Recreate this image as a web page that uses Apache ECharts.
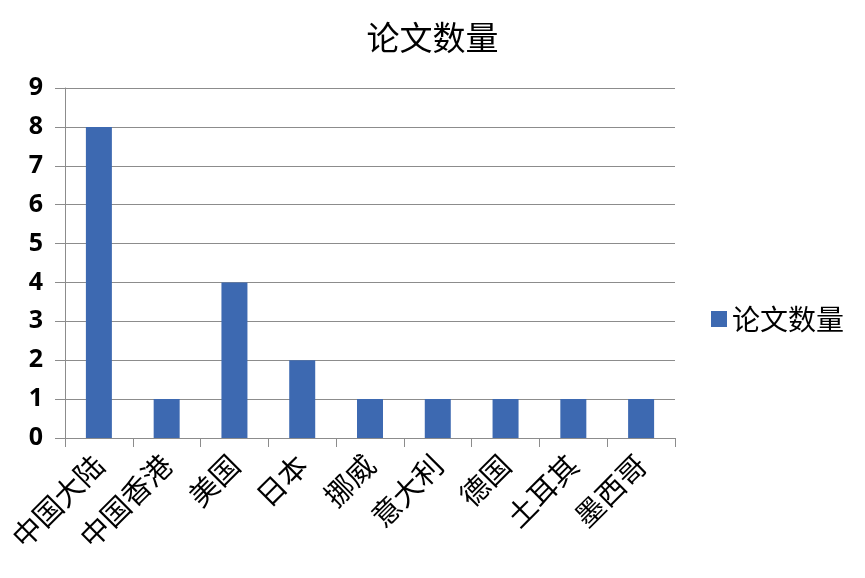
<!DOCTYPE html>
<html><head><meta charset="utf-8">
<script src="https://cdn.jsdelivr.net/npm/echarts@6/dist/echarts.min.js"></script>
<style>html,body{margin:0;padding:0;background:#fff}#c{width:865px;height:578px}</style>
</head><body><div id="c"></div>
<script>
var categories = ['中国大陆','中国香港','美国','日本','挪威','意大利','德国','土耳其','墨西哥'];
var values = [8,1,4,2,1,1,1,1,1];
var seriesName = '论文数量';
var chart = echarts.init(document.getElementById('c'));
chart.setOption({
  animation:false,
  backgroundColor:'#fff',
  title:{text:'论文数量',left:'center',top:16,textStyle:{fontFamily:'Noto Sans CJK SC',fontSize:33,fontWeight:'normal',color:'#000'}},
  legend:{data:[seriesName],orient:'vertical',left:706,top:300,icon:'rect',itemWidth:16,itemHeight:16,itemGap:6,
    textStyle:{fontFamily:'Noto Sans CJK SC',fontSize:28,color:'#000'}},
  grid:{left:65,top:88,width:610,height:350,containLabel:false},
  xAxis:{type:'category',data:categories,
    axisLine:{lineStyle:{color:'#8c8c8c',width:1}},
    axisTick:{show:true,alignWithLabel:false,length:9,lineStyle:{color:'#8c8c8c'}},
    axisLabel:{rotate:45,interval:0,fontFamily:'Noto Sans CJK SC',fontSize:29,color:'#000',margin:22}},
  yAxis:{type:'value',min:0,max:9,interval:1,
    axisLine:{show:true,lineStyle:{color:'#8c8c8c'}},
    axisTick:{show:true,length:10,lineStyle:{color:'#8c8c8c'}},
    splitLine:{lineStyle:{color:'#8c8c8c'}},
    axisLabel:{fontFamily:'Open Sans',fontWeight:'bold',fontSize:25,color:'#000',margin:22}},
  series:[{name:seriesName,type:'bar',data:values,barWidth:26,itemStyle:{color:'#3D69B1'}}]
});
</script></body></html>
